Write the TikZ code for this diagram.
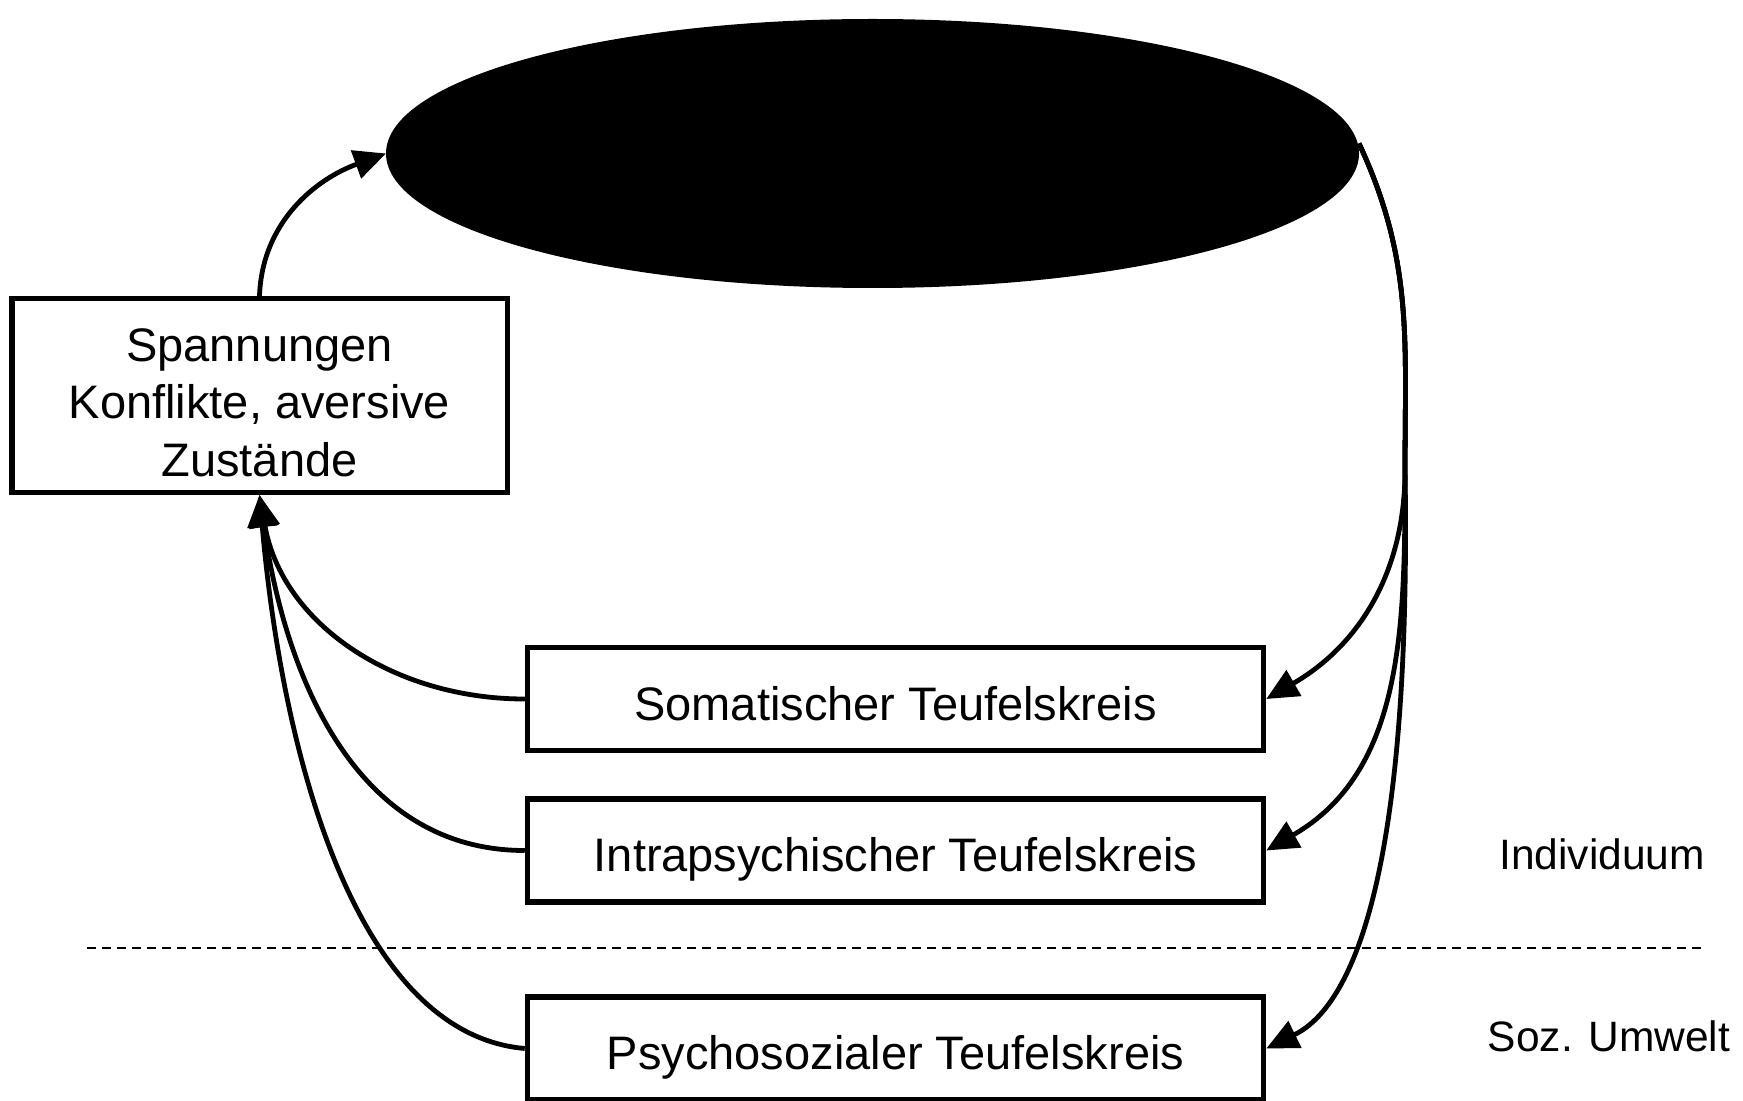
\documentclass[tikz,border=0pt]{standalone}
\usepackage{fontspec}
\setmainfont{Liberation Sans}
\usetikzlibrary{arrows.meta,shapes.geometric}

\tikzset{
  box/.style={draw, line width=2.75pt, rectangle, inner sep=0pt, align=center,
              font=\fontsize{23.5pt}{28.75pt}\selectfont},
  onebox/.style={box, minimum width=368pt, minimum height=51.5pt,
                 text height=21pt, text depth=0pt},
  flow/.style={line width=2.4pt, -{Triangle[length=16pt,width=14.5pt]}},
  sideLabel/.style={inner sep=0pt, font=\fontsize{21.25pt}{24pt}\selectfont},
  sepline/.style={line width=0.75pt, dash pattern=on 4.5pt off 3pt}
}

\begin{document}
\begin{tikzpicture}[x=0.5pt, y=0.5pt]
  \useasboundingbox (0,0) rectangle (1743,-1101);

  % central black ellipse
  \node[ellipse, fill=black, draw=black, line width=1pt, inner sep=0pt,
        minimum width=485.5pt, minimum height=133.5pt] (ell) at (872.5,-153.5) {};

  % boxes
  \node[box, minimum width=247.75pt, minimum height=96.75pt] (sp) at (259.5,-395.5)
    {\raisebox{17.2pt}[0pt][0pt]{\begin{tabular}[t]{@{}c@{}}Spannungen\\Konflikte, aversive\\Zustände\end{tabular}}};
  \node[onebox] (som) at (895.5,-699) {Somatischer Teufelskreis};
  \node[onebox] (intra) at (895.5,-850.5) {Intrapsychischer Teufelskreis};
  \node[onebox] (psy) at (895.5,-1048.5) {Psychosozialer Teufelskreis};

  % layer boundary and labels
  \draw[sepline] (87,-948) -- (1706,-948);
  \node[sideLabel] (ind) at (1602,-854) {Individuum};
  \node[sideLabel] (soz) at (1609,-1036) {Soz. Umwelt};

  % tension feeds the ellipse
  \draw[flow] (sp.north) to[out=88,in=200] (ell.west);

  % ellipse feeds back into the three vicious circles
  \coordinate (top) at ([yshift=5]ell.east);
  \coordinate (split) at (1405,-470);
  \draw[flow] (top) to[out=-65,in=90] (split) to[out=-90,in=30] (som.east);
  \draw[flow] (top) to[out=-65,in=90] (split) to[out=-90,in=30] (intra.east);
  \draw[flow] (top) to[out=-65,in=90] (split)
    .. controls (1412,-900) and (1345,-1010) .. (psy.east);

  % vicious circles raise the tension again
  \draw[flow] (som.west) to[out=180,in=-80] (sp.south);
  \draw[flow] (intra.west) to[out=180,in=-82] (sp.south);
  \draw[flow] (psy.west) .. controls +(175:170) and +(-85:260) .. (sp.south);
\end{tikzpicture}
\end{document}
